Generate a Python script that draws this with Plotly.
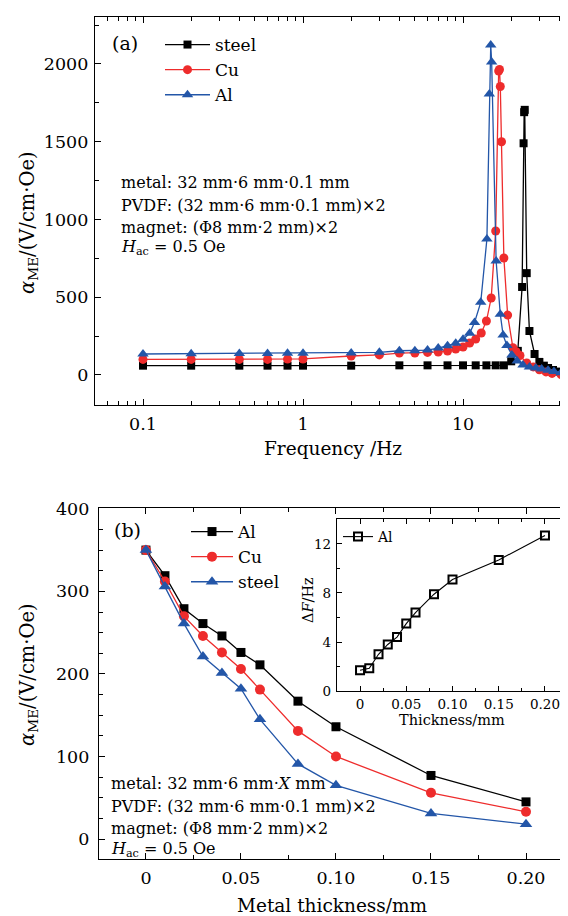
import plotly.graph_objects as go

W, H = 568, 916
PAGE = 8  # page body margin around the plot div
FONT = "DejaVu Serif"
RED = "#EE2C2C"
BLUE = "#2356A8"

# (a) alpha_ME vs frequency
steel_f = [0.1, 0.2, 0.4, 0.6, 0.8, 1, 2, 4, 6, 8, 10, 12, 14, 16, 18, 20, 22,
           23.4, 23.9, 24.1, 24.3, 25, 26, 28, 30, 32, 34, 36.5, 39, 42]
steel_a = [60, 60, 60, 60, 60, 60, 60, 62, 62, 62, 62, 62, 62, 62, 62, 88, 155,
           566, 1490, 1690, 1705, 655, 283, 135, 84, 60, 45, 32, 22, 13]
cu_f = [0.1, 0.2, 0.4, 0.6, 0.8, 1, 2, 3, 4, 5, 6, 7, 8, 9, 10, 11, 12, 13, 14,
        15, 16, 16.7, 16.9, 17.1, 17.4, 18, 19, 20.5, 21.5, 22.7, 25, 27.5, 30,
        33, 36, 41]
cu_a = [100, 100, 100, 100, 102, 103, 122, 129, 141, 141, 145, 148, 154, 167,
        180, 206, 231, 270, 347, 495, 926, 1955, 1965, 1855, 1500, 752, 385, 175,
        150, 125, 77, 52, 34, 20, 10, 2]
al_f = [0.1, 0.2, 0.4, 0.6, 0.8, 1, 2, 3, 4, 5, 6, 7, 8, 9, 10, 11, 11.8, 12.9,
        14.1, 14.6, 14.9, 15.1, 16.1, 17.1, 17.8, 18.8, 20.2, 21.8, 23.7, 26,
        28.5, 31, 34, 37, 41]
al_a = [135, 137, 138, 138, 139, 139, 142, 146, 156, 156, 160, 173, 188, 204,
        230, 268, 338, 467, 874, 1807, 2122, 2013, 733, 390, 257, 190, 129, 90,
        64, 51, 45, 39, 30, 22, 15]

# (b) alpha_ME vs metal thickness
thick = [0, 0.01, 0.02, 0.03, 0.04, 0.05, 0.06, 0.08, 0.10, 0.15, 0.20]
al_b = [350, 319, 279, 261, 246, 226, 211, 167, 136, 77, 45]
cu_b = [350, 312, 270, 246, 226, 206, 181, 131, 100, 56, 33]
steel_b = [350, 306, 261, 221, 201, 182, 145, 91, 65, 31, 18]

# inset: resonance shift
shift_al = [1.7, 1.85, 3.0, 3.8, 4.4, 5.5, 6.4, 7.9, 9.1, 10.7, 12.7]

log_minor = [0.06, 0.07, 0.08, 0.09] + [i / 10 for i in range(2, 10)] + \
    list(range(2, 10)) + [20, 30, 40]


# window pixels -> paper fractions
def px(x):
    return (x - PAGE) / W


def py(y):
    return 1 - (y - PAGE) / H


def axis(size=17.5, **kw):
    d = dict(showline=True, linecolor="black", linewidth=1.2, ticks="inside",
             ticklen=6, tickwidth=1.2, tickcolor="black", showgrid=False,
             zeroline=False, automargin=False,
             tickfont=dict(family=FONT, size=size, color="black"))
    d.update(kw)
    return d


def series(x, y, name, color, symbol, size, xa, ya, legend):
    return go.Scatter(x=x, y=y, name=name, mode="lines+markers",
                      line=dict(color=color, width=1.3),
                      marker=dict(symbol=symbol, size=size, color=color),
                      xaxis=xa, yaxis=ya, legend=legend)


fig = go.Figure()
fig.add_trace(series(steel_f, steel_a, "steel", "black", "square", 8, "x", "y", "legend"))
fig.add_trace(series(cu_f, cu_a, "Cu", RED, "circle", 9, "x", "y", "legend"))
fig.add_trace(series(al_f, al_a, "Al", BLUE, "triangle-up", 10, "x", "y", "legend"))

fig.add_trace(series(thick, al_b, "Al", "black", "square", 9, "x2", "y2", "legend2"))
fig.add_trace(series(thick, cu_b, "Cu", RED, "circle", 10, "x2", "y2", "legend2"))
fig.add_trace(series(thick, steel_b, "steel", BLUE, "triangle-up", 11, "x2", "y2", "legend2"))

fig.add_trace(go.Scatter(x=thick, y=shift_al, name="Al", mode="lines+markers",
                         line=dict(color="black", width=1.1),
                         marker=dict(symbol="square-open", size=8, color="black",
                                     line=dict(width=2)),
                         xaxis="x3", yaxis="y3", legend="legend3"))

fig.update_layout(
    template="none",
    width=W, height=H,
    margin=dict(l=0, r=0, t=0, b=0),
    paper_bgcolor="white", plot_bgcolor="white",
    font=dict(family=FONT, color="black"),
    xaxis=axis(type="log", range=[-1.3, 1.656], domain=[px(95), px(568)],
               anchor="y", mirror="ticks", tickvals=[0.1, 1, 10],
               ticktext=["0.1", "1", "10"], ticklabelstandoff=3,
               minor=dict(ticks="inside", ticklen=3.5, tickvals=log_minor,
                          tickcolor="black", tickwidth=1)),
    yaxis=axis(range=[-193, 2302], domain=[py(405), py(17)], anchor="x",
               tickvals=[0, 500, 1000, 1500, 2000], ticklabelstandoff=2,
               minor=dict(ticks="inside", ticklen=3.5, dtick=250,
                          tickcolor="black", tickwidth=1)),
    xaxis2=axis(range=[-0.0247, 0.2221], domain=[px(99), px(568)], anchor="y2",
                mirror="ticks", tickvals=[0, 0.05, 0.10, 0.15, 0.20],
                ticktext=["0", "0.05", "0.10", "0.15", "0.20"], ticklabelstandoff=3,
                minor=dict(ticks="inside", ticklen=3.5, dtick=0.025,
                           tickcolor="black", tickwidth=1)),
    yaxis2=axis(range=[-24.2, 401], domain=[py(859), py(508)], anchor="x2",
                tickvals=[0, 100, 200, 300, 400], ticklabelstandoff=5,
                minor=dict(ticks="inside", ticklen=3.5, dtick=25,
                           tickcolor="black", tickwidth=1)),
    xaxis3=axis(size=13.5, range=[-0.0249, 0.2249], domain=[px(337), px(568)],
                anchor="y3", mirror="ticks", ticklen=5,
                tickvals=[0, 0.05, 0.10, 0.15, 0.20],
                ticktext=["0", "0.05", "0.10", "0.15", "0.20"], ticklabelstandoff=1,
                minor=dict(ticks="inside", ticklen=3, dtick=0.025,
                           tickcolor="black", tickwidth=1)),
    yaxis3=axis(size=13.5, range=[0, 14.04], domain=[py(691), py(519)],
                anchor="x3", ticklen=5, tickvals=[0, 4, 8, 12], ticklabelstandoff=2,
                minor=dict(ticks="inside", ticklen=3, dtick=2,
                           tickcolor="black", tickwidth=1)),
    legend=dict(x=px(160), y=py(27), xanchor="left", yanchor="top",
                bgcolor="rgba(0,0,0,0)", tracegroupgap=0, itemwidth=45,
                font=dict(family=FONT, size=17)),
    legend2=dict(x=px(186), y=py(514), xanchor="left", yanchor="top",
                 bgcolor="rgba(0,0,0,0)", tracegroupgap=0, itemwidth=42,
                 font=dict(family=FONT, size=17)),
    legend3=dict(x=px(338), y=py(521), xanchor="left", yanchor="top",
                 bgcolor="rgba(0,0,0,0)", itemwidth=30,
                 font=dict(family=FONT, size=14)),
)

notes = [
    # panel labels
    ("(a)", 110, 43, 19, "left", 0),
    ("(b)", 112, 530, 19, "left", 0),
    # panel (a) conditions
    ("metal: 32 mm·6 mm·0.1 mm", 119, 182, 16, "left", 0),
    ("PVDF: (32 mm·6 mm·0.1 mm)×2", 119, 205, 16, "left", 0),
    ("magnet: (Φ8 mm·2 mm)×2", 119, 227, 16, "left", 0),
    ("<i>H</i><sub>ac</sub> = 0.5 Oe", 119, 248, 16, "left", 0),
    # panel (b) conditions
    ("metal: 32 mm·6 mm·<i>X</i> mm", 109, 783, 16, "left", 0),
    ("PVDF: (32 mm·6 mm·0.1 mm)×2", 109, 806, 16, "left", 0),
    ("magnet: (Φ8 mm·2 mm)×2", 109, 828, 16, "left", 0),
    ("<i>H</i><sub>ac</sub> = 0.5 Oe", 109, 849, 16, "left", 0),
    # axis titles
    ("Frequency /Hz", 333, 448, 18.5, "center", 0),
    ("Metal thickness/mm", 332, 905, 18.5, "center", 0),
    ("<i>α</i><sub>ME</sub>/(V/cm·Oe)", 28, 223, 19.5, "center", -90),
    ("<i>α</i><sub>ME</sub>/(V/cm·Oe)", 28, 675, 19.5, "center", -90),
    ("Thickness/mm", 452, 720, 14.5, "center", 0),
    ("Δ<i>F</i>/Hz", 308, 600, 14.5, "center", -90),
]
for text, x, y, size, anchor, angle in notes:
    fig.add_annotation(text=text, x=px(x), y=py(y), xref="paper", yref="paper",
                       xanchor=anchor, yanchor="middle", showarrow=False,
                       textangle=angle, font=dict(family=FONT, size=size, color="black"))

fig.write_html("out.html")
